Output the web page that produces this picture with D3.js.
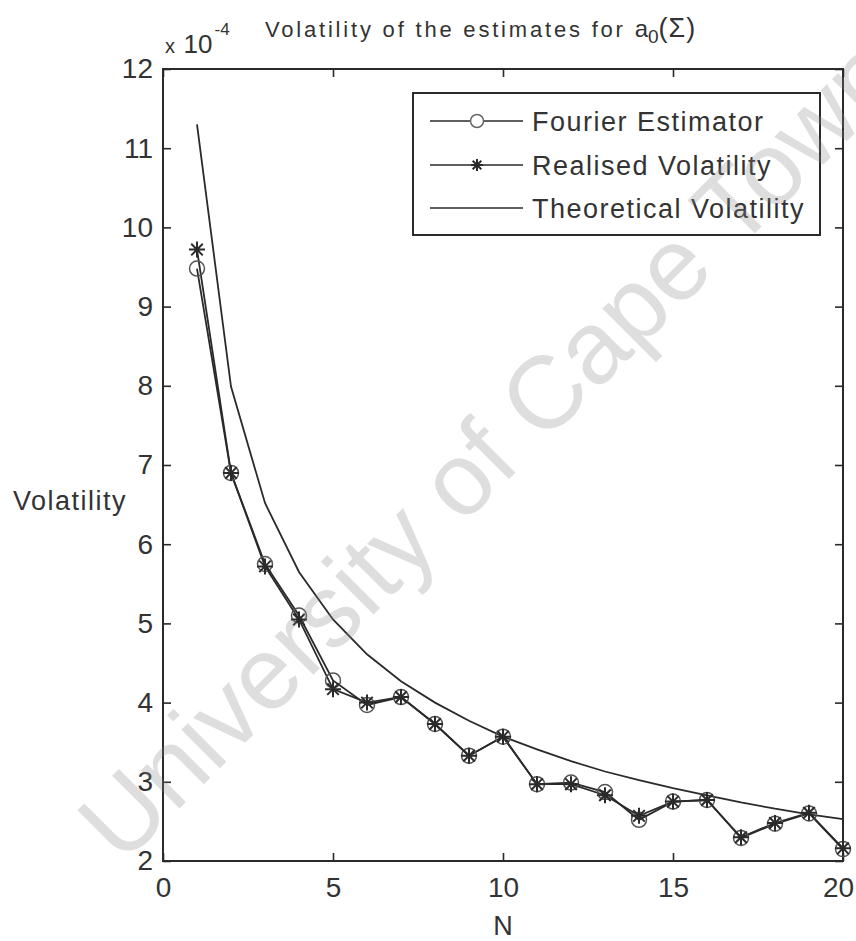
<!DOCTYPE html>
<html>
<head>
<meta charset="utf-8">
<script src="https://cdn.jsdelivr.net/npm/d3@7"></script>
<style>
  body { margin: 0; background: #fff; }
  svg { display: block; font-family: "Liberation Sans", Arial, sans-serif; }
</style>
</head>
<body>
<svg id="chart" width="856" height="941"></svg>
<script>
// Number of Fourier coefficients / sampling parameter
const nValues = [1, 2, 3, 4, 5, 6, 7, 8, 9, 10, 11, 12, 13, 14, 15, 16, 17, 18, 19, 20];

// Volatility of the estimates (units of 1e-4)
const fourierVol = [9.48, 6.90, 5.75, 5.10, 4.28, 3.97, 4.07, 3.73, 3.33, 3.57,
                    2.97, 2.99, 2.87, 2.52, 2.75, 2.77, 2.29, 2.47, 2.60, 2.15];
const realisedVol = [9.72, 6.90, 5.72, 5.05, 4.17, 4.00, 4.07, 3.73, 3.33, 3.57,
                     2.97, 2.97, 2.83, 2.57, 2.75, 2.77, 2.30, 2.48, 2.61, 2.16];
const theoreticalVol = [11.30, 7.99, 6.52, 5.65, 5.05, 4.61, 4.27, 4.00, 3.77, 3.57,
                        3.41, 3.26, 3.13, 3.02, 2.92, 2.83, 2.74, 2.66, 2.59, 2.53];

const xTicks = [0, 5, 10, 15, 20];
const yTicks = [2, 3, 4, 5, 6, 7, 8, 9, 10, 11, 12];
const legendLabels = ["Fourier Estimator", "Realised Volatility", "Theoretical Volatility"];

const ink = "#2a2a2a";
const svg = d3.select("#chart");

const plot = { left: 163, right: 843, top: 69, bottom: 861 };
const x = d3.scaleLinear().domain([0, 20]).range([plot.left, plot.right]);
const y = d3.scaleLinear().domain([2, 12]).range([plot.bottom, plot.top]);

// MATLAB-style asterisk marker: plus + cross
function starPath(r) {
  const d = r * 0.72;
  return `M${-r},0L${r},0M0,${-r}L0,${r}M${-d},${-d}L${d},${d}M${-d},${d}L${d},${-d}`;
}

// Axes (inward ticks on all four sides)
const tickLen = 8;
const gx = svg.append("g").attr("transform", `translate(0,${plot.bottom})`)
  .call(d3.axisBottom(x).tickValues(xTicks).tickSize(-tickLen).tickPadding(16).tickFormat(d3.format("d")));
const gy = svg.append("g").attr("transform", `translate(${plot.left},0)`)
  .call(d3.axisLeft(y).tickValues(yTicks).tickSize(-tickLen).tickPadding(10).tickFormat(d3.format("d")));
const gxt = svg.append("g").attr("transform", `translate(0,${plot.top})`)
  .call(d3.axisTop(x).tickValues(xTicks).tickSize(-tickLen).tickFormat(""));
const gyr = svg.append("g").attr("transform", `translate(${plot.right},0)`)
  .call(d3.axisRight(y).tickValues(yTicks).tickSize(-tickLen).tickFormat(""));

[gx, gy, gxt, gyr].forEach(g => {
  g.select(".domain").remove();
  g.selectAll("line").attr("stroke", ink).attr("stroke-width", 1.6);
  g.selectAll("text").attr("fill", "#333").attr("font-size", 28)
    .attr("font-family", "\"Liberation Sans\", Arial, sans-serif");
});
// keep the last x label inside the figure edge
gx.selectAll(".tick").filter(d => d === 20).select("text").attr("x", -5);

// Box around the axes
svg.append("rect")
  .attr("x", plot.left).attr("y", plot.top)
  .attr("width", plot.right - plot.left).attr("height", plot.bottom - plot.top)
  .attr("fill", "none").attr("stroke", ink).attr("stroke-width", 2);

// Data lines
const line = d3.line().x((d, i) => x(nValues[i])).y(d => y(d));

svg.append("path").datum(theoreticalVol)
  .attr("d", line).attr("fill", "none").attr("stroke", ink).attr("stroke-width", 1.8);
svg.append("path").datum(fourierVol)
  .attr("d", line).attr("fill", "none").attr("stroke", ink).attr("stroke-width", 1.8);
svg.append("path").datum(realisedVol)
  .attr("d", line).attr("fill", "none").attr("stroke", ink).attr("stroke-width", 1.8);

// Markers
svg.append("g").selectAll("circle").data(fourierVol).join("circle")
  .attr("cx", (d, i) => x(nValues[i])).attr("cy", d => y(d)).attr("r", 7.5)
  .attr("fill", "none").attr("stroke", "#555").attr("stroke-width", 1.5);
svg.append("g").selectAll("path").data(realisedVol).join("path")
  .attr("transform", (d, i) => `translate(${x(nValues[i])},${y(d)})`)
  .attr("d", starPath(8)).attr("fill", "none").attr("stroke", ink).attr("stroke-width", 2);

// Axis labels
svg.append("text").attr("x", 503).attr("y", 935).attr("text-anchor", "middle")
  .attr("font-size", 27).attr("fill", "#333").text("N");
svg.append("text").attr("x", 13).attr("y", 510)
  .attr("font-size", 27).attr("letter-spacing", 1.5).attr("fill", "#333").text("Volatility");

// Exponent of the y axis
const expo = svg.append("text").attr("x", 165).attr("y", 53).attr("fill", "#333");
expo.append("tspan").attr("font-size", 20).text("x ");
expo.append("tspan").attr("font-size", 26).attr("dx", 3).text("10");
expo.append("tspan").attr("font-size", 17).attr("dy", -18).attr("dx", 2).text("-4");

// Title
const title = svg.append("text").attr("x", 265).attr("y", 37).attr("fill", "#333")
  .attr("font-size", 22).attr("letter-spacing", 2.8);
title.append("tspan").text("Volatility of the estimates for ");
title.append("tspan").attr("font-size", 24).attr("letter-spacing", 0).text("a");
title.append("tspan").attr("dy", 6).attr("font-size", 19).attr("letter-spacing", 0).text("0");
title.append("tspan").attr("dy", -6).attr("font-size", 27).attr("letter-spacing", 1).text("(Σ)");

// Legend
const legend = svg.append("g");
legend.append("rect").attr("x", 413).attr("y", 93).attr("width", 407).attr("height", 142)
  .attr("fill", "#fff").attr("stroke", ink).attr("stroke-width", 2);
const rowsY = [121, 165, 208];
legendLabels.forEach((lab, i) => {
  const g = legend.append("g").attr("transform", `translate(0,${rowsY[i]})`);
  g.append("line").attr("x1", 430).attr("x2", 523).attr("stroke", ink).attr("stroke-width", 1.6);
  if (i === 0) g.append("circle").attr("cx", 477).attr("r", 6.5).attr("fill", "#fff")
    .attr("stroke", "#666").attr("stroke-width", 1.5);
  if (i === 1) g.append("path").attr("transform", "translate(477,0)").attr("d", starPath(6))
    .attr("stroke", ink).attr("stroke-width", 2);
  g.append("text").attr("x", 532).attr("y", 10).attr("font-size", 27)
    .attr("letter-spacing", 1.5).attr("fill", "#333").text(lab);
});

// Watermark
svg.append("text")
  .attr("transform", "translate(122,866) rotate(-45)")
  .attr("font-size", 103).attr("fill", "#888").attr("fill-opacity", 0.28)
  .text("University of Cape Town");
</script>
</body>
</html>
